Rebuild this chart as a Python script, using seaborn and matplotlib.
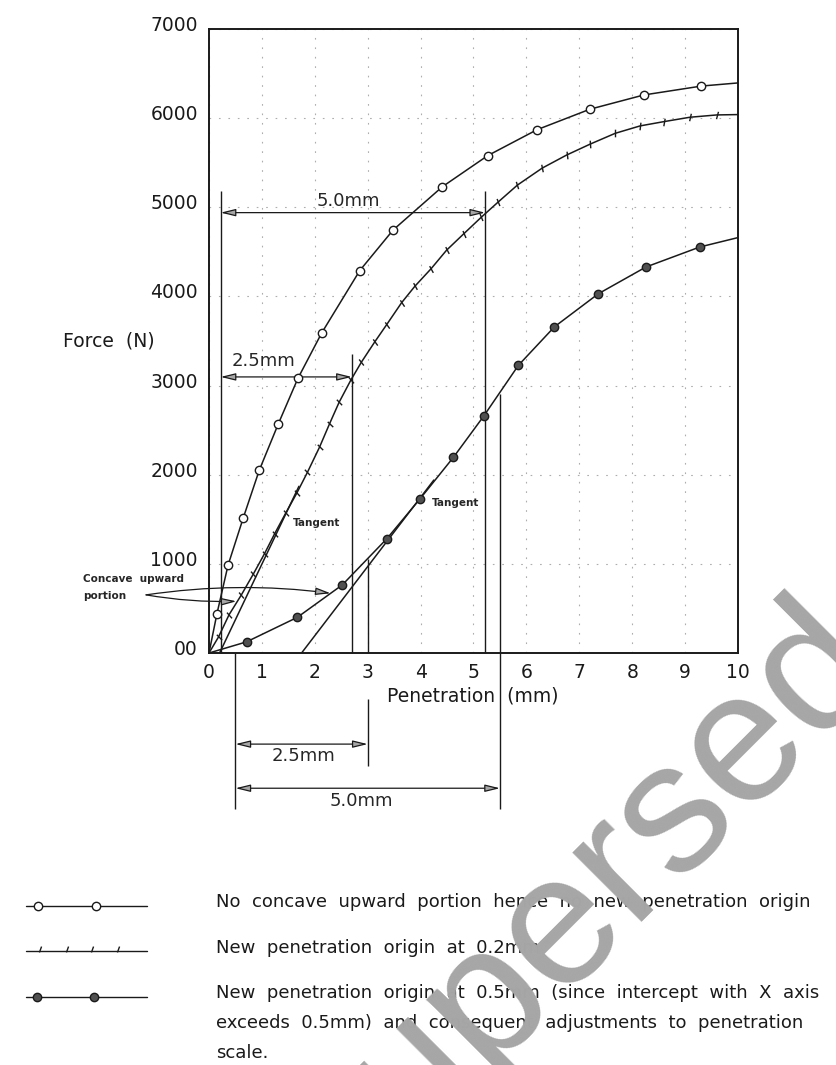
import numpy as np
import matplotlib
matplotlib.use("Agg")
import matplotlib.pyplot as plt
import matplotlib.transforms as mtransforms
import seaborn as sns

# values (penetration in mm, force in N)
# no concave upward portion (open circles)
pen_open = [0.15, 0.36, 0.65, 0.95, 1.31, 1.68, 2.13, 2.85, 3.48, 4.41, 5.27, 6.20, 7.20, 8.22, 9.31]
force_open = [440, 985, 1520, 2050, 2570, 3080, 3590, 4290, 4745, 5230, 5580, 5870, 6100, 6260, 6360]
end_open = 6395

# new origin at 0.2mm (tick marks)
pen_tick = [0.18, 0.38, 0.61, 0.84, 1.05, 1.24, 1.45, 1.66, 1.86, 2.09, 2.28, 2.46, 2.68, 2.88,
            3.13, 3.36, 3.64, 3.89, 4.20, 4.49, 4.82, 5.15, 5.47, 5.83, 6.30, 6.76, 7.21, 7.68,
            8.15, 8.60, 9.09, 9.60]
force_tick = [180, 430, 650, 888, 1115, 1337, 1569, 1794, 2026, 2310, 2573, 2813, 3060, 3262,
              3487, 3685, 3929, 4113, 4312, 4518, 4705, 4890, 5061, 5249, 5440, 5586, 5710, 5830,
              5913, 5961, 6010, 6036]
end_tick = 6040

# new origin at 0.5mm (filled circles)
pen_solid = [0.71, 1.67, 2.52, 3.36, 3.99, 4.62, 5.19, 5.85, 6.53, 7.36, 8.26, 9.28]
force_solid = [125, 400, 764, 1281, 1730, 2195, 2655, 3228, 3659, 4030, 4330, 4555]
end_solid = 4660

# tangents
tan_tick_x, tan_tick_y = [0.20, 1.70], [0, 1870]
tan_solid_x, tan_solid_y = [1.75, 4.25], [0, 1940]

# dimension extension lines: x, from, to
ext_x = [0.22, 2.70, 5.22, 0.5, 3.0, 3.0, 5.5]
ext_lo = [0, 0, 0, -1753, 0, -1270, -1753]
ext_hi = [5185, 3350, 5185, 0, 1050, -517, 2900]

# dimension arrows
dim_y = [4940, 3097, -1022, -1517]
dim_x0 = [0.22, 0.22, 0.5, 0.5]
dim_x1 = [5.22, 2.70, 3.0, 5.5]
dim_text = ["5.0mm", "2.5mm", "2.5mm", "5.0mm"]
dim_tx = [2.64, 1.03, 1.79, 2.87]
dim_ty = [5075, 3273, -1157, -1663]

x_ticks = list(range(0, 11))
y_ticks = [0, 1000, 2000, 3000, 4000, 5000, 6000, 7000]
y_tick_labels = ["00", "1000", "2000", "3000", "4000", "5000", "6000", "7000"]

legend_lines = [
    "No  concave  upward  portion  hence  no  new  penetration  origin",
    "New  penetration  origin  at  0.2mm",
    "New  penetration  origin  at  0.5mm  (since  intercept  with  X  axis",
    "exceeds  0.5mm)  and  consequent  adjustments  to  penetration",
    "scale.",
]

sns.set_style("white")
plt.rcParams["font.family"] = ["DejaVu Sans"]

fig = plt.figure(figsize=(8.37, 10.65), dpi=100)
ax = fig.add_axes([209 / 837, 1 - 653 / 1065, 529 / 837, 624 / 1065])
ax.set_xlim(0, 10)
ax.set_ylim(0, 7000)

ink = "#1a1a1a"
lw = 1.1

# curves
sns.lineplot(x=[0] + pen_open + [10], y=[0] + force_open + [end_open], color=ink, lw=lw,
             estimator=None, sort=False, ax=ax)
sns.lineplot(x=[0] + pen_tick + [10], y=[0] + force_tick + [end_tick], color=ink, lw=lw,
             estimator=None, sort=False, ax=ax)
sns.lineplot(x=[0] + pen_solid + [10], y=[0] + force_solid + [end_solid], color=ink, lw=lw,
             estimator=None, sort=False, ax=ax)
sns.lineplot(x=tan_tick_x, y=tan_tick_y, color=ink, lw=lw, estimator=None, sort=False, ax=ax)
sns.lineplot(x=tan_solid_x, y=tan_solid_y, color=ink, lw=lw, estimator=None, sort=False, ax=ax)

# markers
sns.scatterplot(x=pen_open, y=force_open, marker="o", s=36, color="white", edgecolor=ink,
                linewidth=1.0, zorder=5, ax=ax)
sns.scatterplot(x=pen_solid, y=force_solid, marker="o", s=36, color="#505050", edgecolor=ink,
                linewidth=1.0, zorder=5, ax=ax)
# small ticks across the 0.2mm curve, roughly perpendicular to it
pts = ax.transData.transform(np.column_stack([pen_tick, force_tick]))
ang = np.degrees(np.arctan2(np.gradient(pts[:, 1]), np.gradient(pts[:, 0])))
for xi, yi, a in zip(pen_tick, force_tick, ang):
    ax.plot(xi, yi, marker=(2, 0, a - 20), ms=5.5, mew=1.0, color=ink, ls="none", zorder=5)

# dimension lines
ax.vlines(ext_x, ext_lo, ext_hi, color=ink, lw=1.0, clip_on=False)
for y, x0, x1, t, tx, ty in zip(dim_y, dim_x0, dim_x1, dim_text, dim_tx, dim_ty):
    ax.annotate("", xy=(x1, y), xytext=(x0, y), annotation_clip=False,
                arrowprops=dict(arrowstyle="<|-|>,head_length=0.9,head_width=0.22",
                                fc="0.65", ec=ink, lw=0.9, shrinkA=0, shrinkB=0))
    ax.text(tx, ty, t, ha="center", va="center", fontsize=13, clip_on=False)

# labels inside plot
ax.text(1.58, 1460, "Tangent", fontsize=7.5, fontweight="bold", ha="left", va="center")
ax.text(4.21, 1685, "Tangent", fontsize=7.5, fontweight="bold", ha="left", va="center")
ax.text(-2.38, 831, "Concave  upward", fontsize=7.5, fontweight="bold", ha="left", va="center",
        clip_on=False)
ax.text(-2.38, 640, "portion", fontsize=7.5, fontweight="bold", ha="left", va="center",
        clip_on=False)
arrow_kw = dict(arrowstyle="-|>,head_length=0.9,head_width=0.22", fc="0.65", ec=ink, lw=0.9,
                shrinkA=0, shrinkB=0)
ax.annotate("", xy=(2.30, 670), xytext=(-1.19, 652), annotation_clip=False,
            arrowprops=dict(connectionstyle="arc3,rad=-0.07", **arrow_kw))
ax.annotate("", xy=(0.52, 580), xytext=(-1.19, 652), annotation_clip=False,
            arrowprops=dict(connectionstyle="arc3,rad=0.05", **arrow_kw))

# axes styling
ax.grid(True, color="0.68", ls=(0, (1.5, 7)), lw=0.8)
ax.set_axisbelow(True)
for sp in ax.spines.values():
    sp.set_color(ink)
    sp.set_linewidth(1.4)
ax.set_xticks(x_ticks)
ax.set_xticklabels([str(v) for v in x_ticks])
ax.set_yticks(y_ticks)
ax.set_yticklabels(y_tick_labels)
ax.tick_params(axis="both", length=0, labelsize=13.5, colors=ink)
ax.tick_params(axis="x", pad=7)
ax.tick_params(axis="y", pad=8)
# y labels sit a little above their grid line in the original
lift = mtransforms.ScaledTranslation(0, 4 / 72, fig.dpi_scale_trans)
for lab in ax.get_yticklabels():
    lab.set_transform(lab.get_transform() + lift)
ax.set_xlabel("Penetration  (mm)", fontsize=13.5, color=ink)
ax.xaxis.set_label_coords(0.499, -0.069)
ax.xaxis.label.set_va("center")
ax.set_ylabel("Force  (N)", fontsize=13.5, rotation=0, color=ink)
ax.yaxis.set_label_coords(-0.189, 0.5)
ax.yaxis.label.set_ha("center")
ax.yaxis.label.set_va("center")

# key below the chart, in pixel coordinates of the figure
kx = fig.add_axes([0, 0, 1, 1], zorder=-1)
kx.set_xlim(0, 837)
kx.set_ylim(1065, 0)
kx.axis("off")
kx.plot([26, 147], [906, 906], color=ink, lw=1.0)
kx.plot([38, 96], [906, 906], ls="none", marker="o", ms=6, mfc="white", mec=ink, mew=1.0)
kx.plot([26, 147], [951, 951], color=ink, lw=1.0)
for tx in [40, 67, 92, 118]:
    kx.plot(tx, 949, ls="none", marker=(2, 0, -20), ms=4.5, mew=1.0, color=ink)
kx.plot([26, 147], [997, 997], color=ink, lw=1.0)
kx.plot([37, 94], [997, 997], ls="none", marker="o", ms=6, mfc="#505050", mec=ink, mew=1.0)
for t, y in zip(legend_lines, [902, 948, 993, 1023, 1053]):
    kx.text(216, y, t, fontsize=13, ha="left", va="center", color=ink)

# watermark
fig.text(645 / 837, 1 - 843 / 1065, "Superseded", rotation=45, rotation_mode="anchor",
         ha="center", va="center", fontsize=134, family="Liberation Sans", color="#a6a6a6",
         zorder=10)

fig.savefig("out.png", dpi=100, facecolor="white")
